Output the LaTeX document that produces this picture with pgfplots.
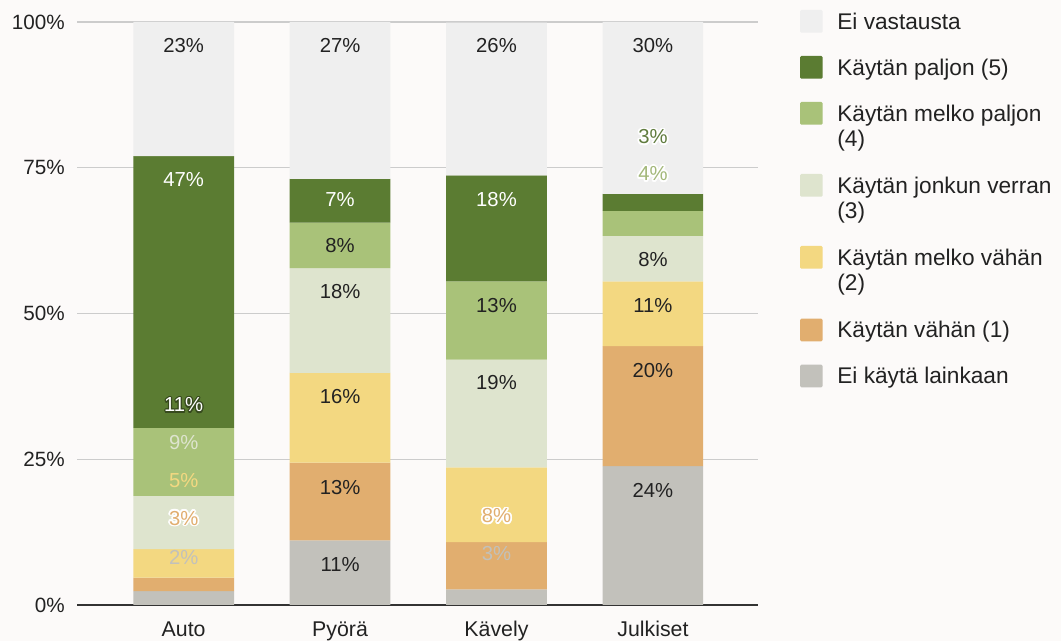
\documentclass[border=0pt]{standalone}
\usepackage{pgfplots}
\pgfplotsset{compat=1.18}
\usepackage{fontspec}
\setmainfont{Liberation Sans}
\definecolor{bg}{RGB}{252,250,249}
\definecolor{txt}{RGB}{34,34,34}
\definecolor{gridc}{RGB}{204,204,204}
\definecolor{basec}{RGB}{51,51,51}
\definecolor{cEV}{RGB}{239,239,239}
\definecolor{cP5}{RGB}{91,124,50}
\definecolor{cP4}{RGB}{169,194,121}
\definecolor{cP3}{RGB}{222,228,206}
\definecolor{cP2}{RGB}{243,216,129}
\definecolor{cP1}{RGB}{225,174,111}
\definecolor{cP0}{RGB}{194,193,187}
\newcommand\halo[4]{%
  \setbox0=\hbox{#4}%
  \foreach \ang in {0,30,...,330}{%
    \pgfmathsetlengthmacro\hx{#2*cos(\ang)}%
    \pgfmathsetlengthmacro\hy{#2*sin(\ang)}%
    \rlap{\hspace*{\hx}\raisebox{\hy}{\textcolor{#1}{\copy0}}}}%
  \textcolor{#3}{\box0}}
\newcommand\lgent[1]{\begin{tabular}[t]{@{}l@{}}#1\end{tabular}}
\tikzset{lab/.style={font=\fontsize{15.2}{18}\selectfont, text=txt, inner sep=0pt},
  ldepth/.initial=20pt}
\begin{document}
\begin{tikzpicture}
\fill[bg] (0pt,0pt) rectangle (795.75pt,480.75pt);
\begin{axis}[
  at={(57.98pt,27pt)}, anchor=south west,
  scale only axis, width=510.3pt, height=437.25pt,
  xmin=-0.68, xmax=3.67, ymin=0, ymax=100,
  ybar stacked, reverse stacked plots=false, bar width=75.5pt,
  axis line style={draw=none},
  major tick length=0pt,
  xtick={0,1,2,3}, xticklabels={Auto,Pyörä,Kävely,Julkiset},
  xticklabel style={font=\fontsize{16}{19}\selectfont, text=txt, anchor=base, yshift=-24pt},
  ytick={25,50,75,100}, yticklabels={25\%,50\%,75\%,100\%},
  extra y ticks={0}, extra y tick labels={0\%},
  extra y tick style={ymajorgrids=true, grid style={basec, line width=1.1pt}},
  ymajorgrids, grid style={gridc, line width=1.1pt},
  yticklabel style={font=\fontsize{15.5}{18}\selectfont, text=txt, anchor=east, inner sep=0pt, xshift=-9.2pt},
  /pgf/number format/assume math mode=true,
  reverse legend,
  legend style={at={(1.0622,1.0206)}, anchor=north west, draw=none, fill=none,
    inner sep=0pt, outer sep=0pt, font=\fontsize{17}{18.75}\selectfont, text=txt,
    row sep=0pt, nodes={inner sep=0pt}, cells={anchor=base west},
    /tikz/every odd column/.append style={column sep=11pt}},
  every axis plot post/.append style={legend image code/.code={%
    \fill[##1, rounded corners=1pt] (0pt,-2.5pt) rectangle (17pt,14.5pt);
    \path[##1, draw=none, fill=none] (0pt,14.5pt) -- (0pt,-\pgfkeysvalueof{/tikz/ldepth});}},
]
\addplot[fill=cP0, draw=none] coordinates {(0,2.4) (1,11.1) (2,2.7) (3,23.8)};
\addlegendentry{\lgent{Ei käytä lainkaan}}
\addplot[fill=cP1, draw=none] coordinates {(0,2.3) (1,13.3) (2,8.1) (3,20.6)};
\addlegendentry{\lgent{Käytän vähän (1)}}
\addplot[fill=cP2, draw=none, ldepth=40pt] coordinates {(0,4.9) (1,15.4) (2,12.8) (3,11.1)};
\addlegendentry{\lgent{Käytän melko vähän\\(2)}}
\addplot[fill=cP3, draw=none, ldepth=39.5pt] coordinates {(0,9.1) (1,18.0) (2,18.5) (3,7.8)};
\addlegendentry{\lgent{Käytän jonkun verran\\(3)}}
\addplot[fill=cP4, draw=none, ldepth=39.5pt] coordinates {(0,11.7) (1,7.8) (2,13.4) (3,4.3)};
\addlegendentry{\lgent{Käytän melko paljon\\(4)}}
\addplot[fill=cP5, draw=none, ldepth=20pt] coordinates {(0,46.6) (1,7.5) (2,18.2) (3,2.9)};
\addlegendentry{\lgent{Käytän paljon (5)}}
\addplot[fill=cEV, draw=none, ldepth=20pt] coordinates {(0,23.0) (1,26.9) (2,26.2) (3,29.5)};
\addlegendentry{\lgent{Ei vastausta}}
% labels: Auto
\node[lab] at (axis cs:0,95.9) {23\%};
\node[lab, text=white] at (axis cs:0,72.9) {47\%};
\node[lab] at (axis cs:0,34.3) {\halo{cP5!60!black}{0.9pt}{white}{11\%}};
\node[lab, text=cP3] at (axis cs:0,27.9) {9\%};
\node[lab, text=cP2] at (axis cs:0,21.3) {5\%};
\node[lab] at (axis cs:0,14.9) {\halo{white}{1.3pt}{cP1}{3\%}};
\node[lab, text=cP0] at (axis cs:0,8.1) {2\%};
% Pyora
\node[lab] at (axis cs:1,95.9) {27\%};
\node[lab, text=white] at (axis cs:1,69.5) {7\%};
\node[lab] at (axis cs:1,61.6) {8\%};
\node[lab] at (axis cs:1,53.7) {18\%};
\node[lab] at (axis cs:1,35.8) {16\%};
\node[lab] at (axis cs:1,20.2) {13\%};
\node[lab] at (axis cs:1,6.9) {11\%};
% Kavely
\node[lab] at (axis cs:2,95.9) {26\%};
\node[lab, text=white] at (axis cs:2,69.5) {18\%};
\node[lab] at (axis cs:2,51.3) {13\%};
\node[lab] at (axis cs:2,38.1) {19\%};
\node[lab] at (axis cs:2,15.3) {\halo{white}{1.3pt}{cP1}{8\%}};
\node[lab, text=cP0] at (axis cs:2,8.8) {3\%};
% Julkiset
\node[lab] at (axis cs:3,95.9) {30\%};
\node[lab] at (axis cs:3,80.3) {\halo{white}{1.3pt}{cP5!85!gray}{3\%}};
\node[lab] at (axis cs:3,74.0) {\halo{white}{1.3pt}{cP4!85!gray}{4\%}};
\node[lab] at (axis cs:3,59.2) {8\%};
\node[lab] at (axis cs:3,51.3) {11\%};
\node[lab] at (axis cs:3,40.3) {20\%};
\node[lab] at (axis cs:3,19.7) {24\%};
\end{axis}
\pgfresetboundingbox
\path[use as bounding box] (0pt,0pt) rectangle (795.75pt,480.75pt);
\end{tikzpicture}
\end{document}
